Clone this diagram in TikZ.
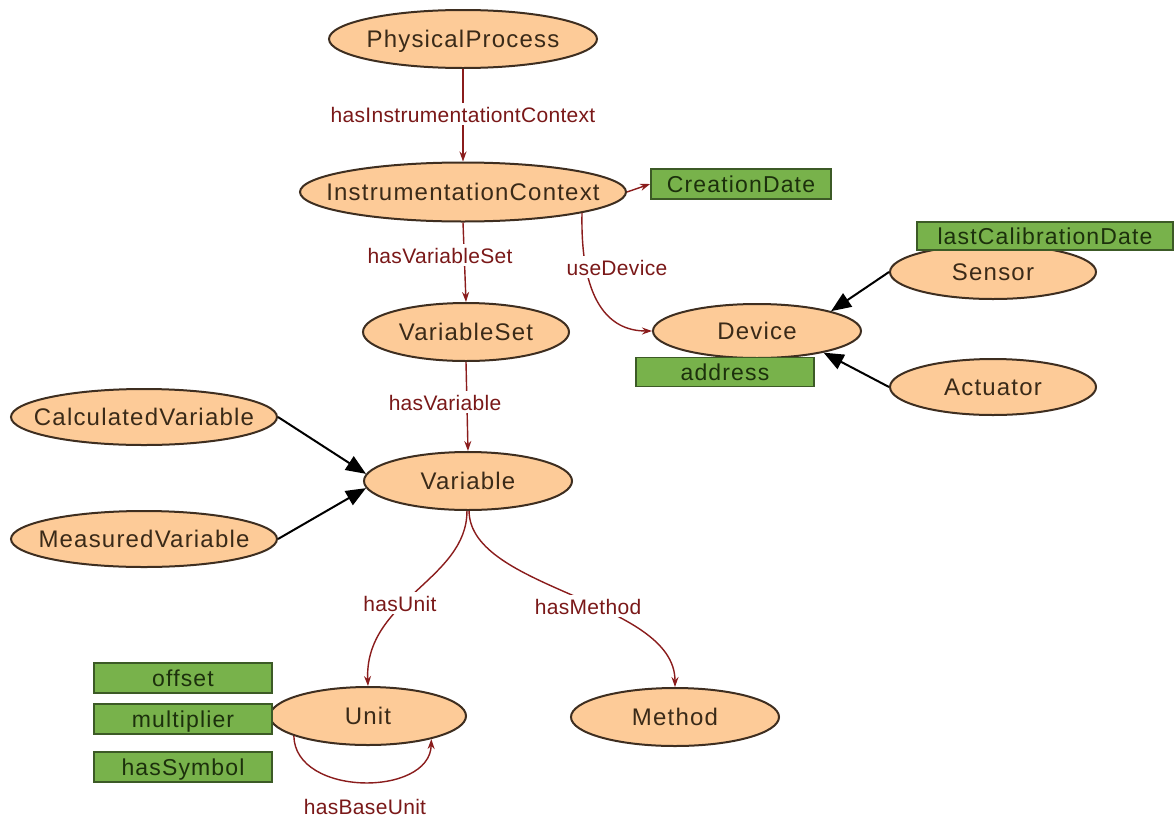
\documentclass[tikz,border=0pt]{standalone}
\usepackage{fontspec}
\setmainfont{Liberation Sans}
\newfontfamily\nodefamily[LetterSpace=5]{Liberation Sans}
\newfontfamily\edgefamily[LetterSpace=1.5]{Liberation Sans}
\newcommand\ovalfont{\nodefamily\fontsize{24}{28}\selectfont}
\newcommand\attrfont{\nodefamily\fontsize{23}{27}\selectfont}
\newcommand\relfont{\edgefamily\fontsize{21}{25}\selectfont}
\usetikzlibrary{shapes.geometric,arrows.meta}
\definecolor{peach}{HTML}{FDCB98}
\definecolor{peachline}{HTML}{3E2E20}
\definecolor{leaf}{HTML}{78B24B}
\definecolor{leafline}{HTML}{3C5A26}
\definecolor{leaftext}{HTML}{1C300C}
\definecolor{ovaltext}{HTML}{3A2A18}
\definecolor{relred}{HTML}{8A1C1C}
\definecolor{reltext}{HTML}{7A1818}
\begin{document}
\begin{tikzpicture}[x=1pt,y=-1pt,
  oval/.style={ellipse, draw=peachline, fill=peach, line width=2pt, inner sep=0pt},
  ovaltxt/.style={font=\ovalfont, text=ovaltext, inner sep=0pt, text height=17pt, text depth=0pt},
  attr/.style={rectangle, draw=leafline, fill=leaf, line width=1.8pt, inner sep=0pt,
    font=\attrfont, text=leaftext, text height=17pt, text depth=0pt},
  rel/.style={draw=relred, line width=1.4pt, -{Stealth[length=10pt,width=7pt]}},
  reltxt/.style={font=\relfont, text=reltext, fill=white, inner sep=3pt, text height=16pt, text depth=0pt},
  isa/.style={draw=black, line width=2pt, -{Triangle[length=20pt,width=16pt]}}
]
\fill[white] (0,0) rectangle (1175,817);
\useasboundingbox (0,0) rectangle (1175,817);

% classes
\node[oval, minimum width=268pt, minimum height=58pt] (pp) at (463,39) {};
\node[ovaltxt] (ppt) at (pp) {PhysicalProcess};
\node[oval, minimum width=326pt, minimum height=59pt] (ic) at (463,192) {};
\node[ovaltxt] (ict) at (ic) {InstrumentationContext};
\node[oval, minimum width=206pt, minimum height=58pt] (vs) at (466,332) {};
\node[ovaltxt] (vst) at (vs) {VariableSet};
\node[oval, minimum width=208pt, minimum height=54pt] (dev) at (757,331) {};
\node[ovaltxt] (devt) at (dev) {Device};
\node[oval, minimum width=206pt, minimum height=54pt] (sen) at (993,272) {};
\node[ovaltxt] (sent) at (sen) {Sensor};
\node[oval, minimum width=206pt, minimum height=56pt] (act) at (993,387) {};
\node[ovaltxt] (actt) at (act) {Actuator};
\node[oval, minimum width=266pt, minimum height=56pt] (cv) at (144,417) {};
\node[ovaltxt] (cvt) at (cv) {CalculatedVariable};
\node[oval, minimum width=266pt, minimum height=56pt] (mv) at (144,539) {};
\node[ovaltxt] (mvt) at (mv) {MeasuredVariable};
\node[oval, minimum width=208pt, minimum height=58pt] (var) at (468,481) {};
\node[ovaltxt] (vart) at (var) {Variable};
\node[oval, minimum width=196pt, minimum height=58pt] (unit) at (368,716) {};
\node[ovaltxt] (unitt) at (unit) {Unit};
\node[oval, minimum width=208pt, minimum height=58pt] (meth) at (675,717) {};
\node[ovaltxt] (metht) at (meth) {Method};

% attributes
\node[attr, minimum width=180pt, minimum height=30pt] (cd) at (741,184) {CreationDate};
\node[attr, minimum width=256pt, minimum height=28pt] (lcd) at (1045,236) {lastCalibrationDate};
\node[attr, minimum width=178pt, minimum height=29pt] (addr) at (725,372) {address};
\node[attr, minimum width=178pt, minimum height=30pt] (off) at (183,678) {offset};
\node[attr, minimum width=178pt, minimum height=30pt] (mult) at (183,719) {multiplier};
\node[attr, minimum width=178pt, minimum height=30pt] (sym) at (183,767) {hasSymbol};

% relations
\draw[rel] (pp.south) -- (ic.north);
\draw[rel] (ic.east) -- (cd.west);
\draw[rel] (ic.south) -- (vs.north);
\draw[rel] (ic.-10) .. controls (580,310) and (615,331) .. (dev.west);
\draw[rel] (vs.south) -- (var.north);
\draw[rel] (var.-92) .. controls (467,580) and (364,600) .. (unit.north);
\draw[rel] (var.-88) .. controls (470,590) and (675,600) .. (meth.north);
\draw[rel] (unit.-165) .. controls (295,797) and (430,797) .. (unit.-20);

% subclass arrows
\draw[isa] (sen.west) -- (dev.15);
\draw[isa] (act.west) -- (dev.-18);
\draw[isa] (cv.east) -- (var.176);
\draw[isa] (mv.east) -- (var.184);

% relation labels
\node[reltxt] (l1) at (463,114) {hasInstrumentationtContext};
\node[reltxt] (l2) at (440,255) {hasVariableSet};
\node[reltxt] (l3) at (617,267) {useDevice};
\node[reltxt] (l4) at (445,402) {hasVariable};
\node[reltxt] (l5) at (400,603) {hasUnit};
\node[reltxt] (l6) at (588,606) {hasMethod};
\node[reltxt] (l7) at (365,806) {hasBaseUnit};
\end{tikzpicture}
\end{document}
